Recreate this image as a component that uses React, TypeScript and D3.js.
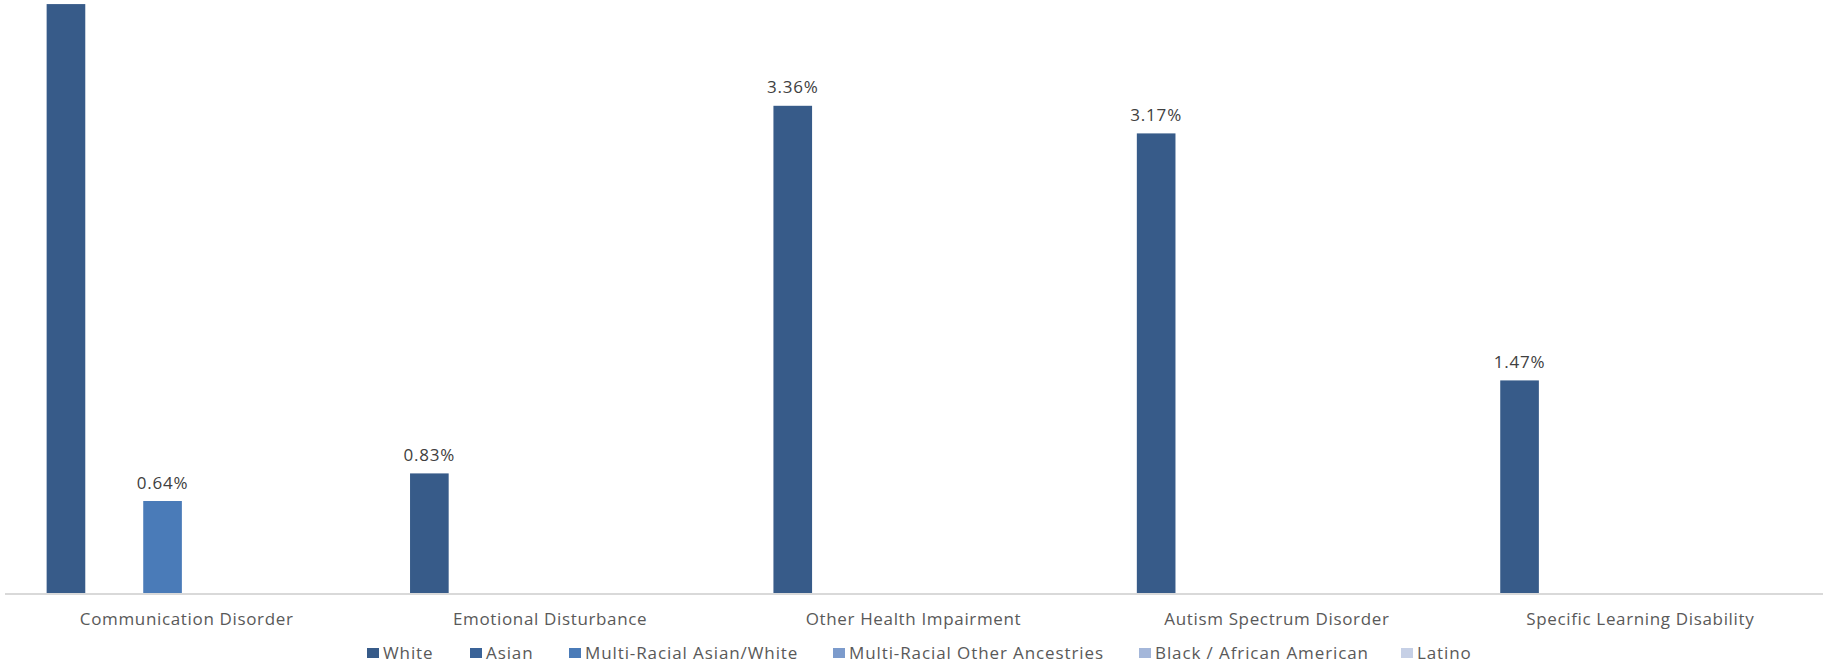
import React from "react";
import * as d3 from "d3";

const categories = [
  "Communication Disorder",
  "Emotional Disturbance",
  "Other Health Impairment",
  "Autism Spectrum Disorder",
  "Specific Learning Disability",
];
const seriesNames = [
  "White",
  "Asian",
  "Multi-Racial Asian/White",
  "Multi-Racial Other Ancestries",
  "Black / African American",
  "Latino",
];
const seriesColors = ["#375b89", "#3a6398", "#4a7bb8", "#7c9bcc", "#a4b7da", "#c6d0e6"];
// values in percent, per series (index matches categories)
const whiteValues = [4.06, 0.83, 3.36, 3.17, 1.47];
const asianValues = [0, 0, 0, 0, 0];
const multiAsianWhiteValues = [0.64, 0, 0, 0, 0];
const multiOtherValues = [0, 0, 0, 0, 0];
const blackValues = [0, 0, 0, 0, 0];
const latinoValues = [0, 0, 0, 0, 0];
const seriesValues = [whiteValues, asianValues, multiAsianWhiteValues, multiOtherValues, blackValues, latinoValues];

const W = 1831;
const H = 664;
const baseY = 594;
const font = "'Open Sans', 'DejaVu Sans', sans-serif";

export default function App() {
  const x = d3.scaleBand<string>().domain(categories).range([5, 1822]).padding(0);
  const xs = d3
    .scaleBand<string>()
    .domain(seriesNames)
    .range([0, x.bandwidth()])
    .paddingInner(0.2)
    .paddingOuter(0.862)
    .align(0.5);
  const y = d3.scaleLinear().domain([0, 4]).range([baseY, baseY - 4 * 145.3]);

  const legendTextX = [383, 486, 585, 849, 1155, 1417];

  return (
    <svg
      width={W}
      height={H}
      style={{ position: "absolute", left: 0, top: 0, background: "#fff" }}
      fontFamily={font}
    >
      <rect x={0} y={0} width={W} height={H} fill="#fff" />
      {seriesNames.map((s, si) =>
        categories.map((c, ci) => {
          const v = seriesValues[si][ci];
          if (!v) return null;
          const bx = (x(c) as number) + (xs(s) as number);
          const by = y(v);
          const ly = by - 12.5;
          return (
            <g key={s + c}>
              <rect x={bx} y={by} width={xs.bandwidth()} height={baseY - by} fill={seriesColors[si]} />
              {ly > 14 && (
                <text
                  x={bx + xs.bandwidth() / 2}
                  y={ly}
                  textAnchor="middle"
                  fontSize={17}
                  letterSpacing={0.8}
                  fill="#404040"
                >
                  {v.toFixed(2)}%
                </text>
              )}
            </g>
          );
        })
      )}
      <line x1={5} x2={1823} y1={baseY} y2={baseY} stroke="#d9d9d9" strokeWidth={2} />
      {categories.map((c) => (
        <text
          key={c}
          x={(x(c) as number) + x.bandwidth() / 2}
          y={625}
          textAnchor="middle"
          fontSize={17}
          letterSpacing={0.65}
          fill="#595959"
        >
          {c}
        </text>
      ))}
      {seriesNames.map((s, i) => (
        <g key={s} transform={`translate(${legendTextX[i]},659)`}>
          <rect x={-16} y={-11} width={12} height={10} fill={seriesColors[i]} />
          <text x={0} y={0} fontSize={17} letterSpacing={0.9} fill="#595959">
            {s}
          </text>
        </g>
      ))}
    </svg>
  );
}
